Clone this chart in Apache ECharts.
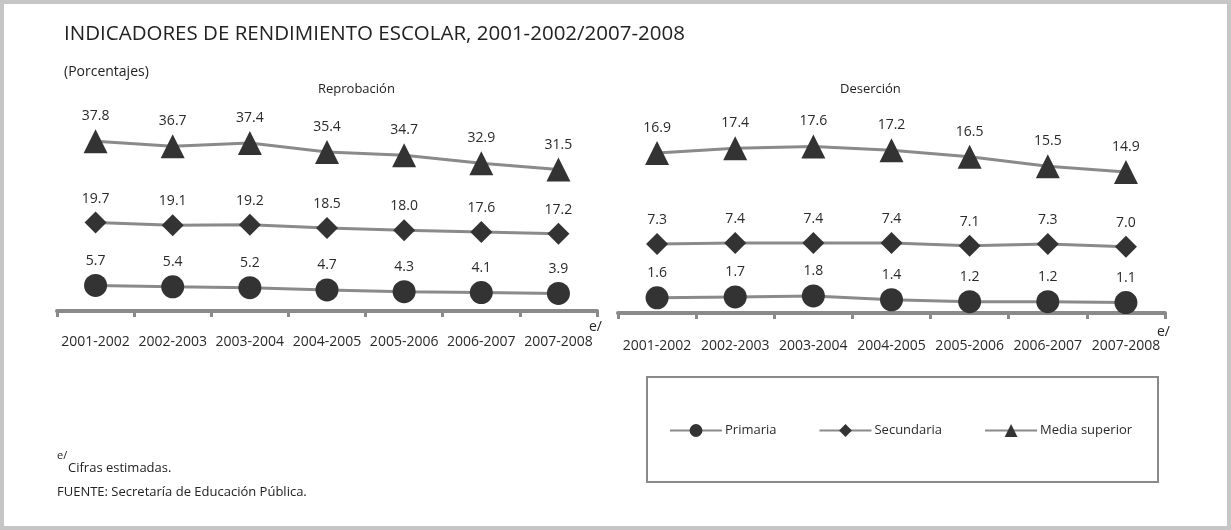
<!DOCTYPE html>
<html>
<head>
<meta charset="utf-8">
<script src="https://cdn.jsdelivr.net/npm/echarts@6/dist/echarts.min.js"></script>
<style>
    html, body { margin: 0; padding: 0; background: #fff; }
    #main { width: 1231px; height: 530px; box-sizing: border-box; border: 4px solid #c6c6c6; }
</style>
</head>
<body>
<div id="main"></div>
<script>
    // 資料
    var periodos = ['2001-2002', '2002-2003', '2003-2004', '2004-2005', '2005-2006', '2006-2007', '2007-2008'];

    var reprobPrimaria = [5.7, 5.4, 5.2, 4.7, 4.3, 4.1, 3.9];
    var reprobSecundaria = [19.7, 19.1, 19.2, 18.5, 18.0, 17.6, 17.2];
    var reprobMedia = [37.8, 36.7, 37.4, 35.4, 34.7, 32.9, 31.5];

    var desercPrimaria = [1.6, 1.7, 1.8, 1.4, 1.2, 1.2, 1.1];
    var desercSecundaria = [7.3, 7.4, 7.4, 7.4, 7.1, 7.3, 7.0];
    var desercMedia = [16.9, 17.4, 17.6, 17.2, 16.5, 15.5, 14.9];

    var fuente = '"Open Sans", "Noto Sans", sans-serif';

    var myChart = echarts.init(document.getElementById('main'));

    function serie(name, symbol, size, data, idx) {
        return {
            name: name,
            type: 'line',
            xAxisIndex: idx,
            yAxisIndex: idx,
            data: data,
            symbol: symbol,
            symbolSize: size,
            showAllSymbol: true,
            lineStyle: { color: '#8a8a8a', width: 3 },
            itemStyle: { color: '#333333', borderWidth: 0 },
            label: {
                show: true,
                position: 'top',
                distance: 6,
                fontSize: 14,
                fontFamily: fuente,
                color: '#2a2a2a',
                formatter: function (p) { return p.value.toFixed(1); }
            },
            emphasis: { disabled: true },
            animation: false
        };
    }

    function ejeX(idx, margin) {
        return {
            type: 'category',
            gridIndex: idx,
            data: periodos,
            boundaryGap: true,
            axisLine: { lineStyle: { color: '#8a8a8a', width: 4 } },
            axisTick: { show: true, length: 6, lineStyle: { color: '#8a8a8a', width: 3 } },
            axisLabel: { fontSize: 14, fontFamily: fuente, color: '#2a2a2a', margin: margin, interval: 0 }
        };
    }

    function ejeY(idx, max) {
        return {
            type: 'value',
            gridIndex: idx,
            min: 0,
            max: max,
            show: false,
            splitLine: { show: false }
        };
    }

    var option = {
        animation: false,
        grid: [
            { left: 53, top: 96, width: 540, height: 211 },
            { left: 614, top: 96, width: 547, height: 213 }
        ],
        xAxis: [ejeX(0, 24), ejeX(1, 26)],
        yAxis: [ejeY(0, 47), ejeY(1, 22.5)],
        legend: {
            left: 660,
            top: 415,
            itemGap: 42,
            itemWidth: 52,
            itemHeight: 16,
            textStyle: { fontSize: 13, fontFamily: fuente, color: '#2a2a2a', padding: [0, 0, 0, -2] },
            data: ['Primaria', 'Secundaria', 'Media superior']
        },
        series: [
            serie('Primaria', 'circle', 23, reprobPrimaria, 0),
            serie('Secundaria', 'diamond', 22, reprobSecundaria, 0),
            serie('Media superior', 'triangle', 24, reprobMedia, 0),
            serie('Primaria', 'circle', 23, desercPrimaria, 1),
            serie('Secundaria', 'diamond', 22, desercSecundaria, 1),
            serie('Media superior', 'triangle', 24, desercMedia, 1)
        ],
        graphic: [
            { type: 'text', left: 60, top: 20, style: { text: 'INDICADORES DE RENDIMIENTO ESCOLAR, 2001-2002/2007-2008', font: '20.5px ' + fuente, fill: '#222' } },
            { type: 'text', left: 60, top: 61, style: { text: '(Porcentajes)', font: '14px ' + fuente, fill: '#222' } },
            { type: 'text', left: 314, top: 79, style: { text: 'Reprobación', font: '13px ' + fuente, fill: '#222' } },
            { type: 'text', left: 836, top: 79, style: { text: 'Deserción', font: '13px ' + fuente, fill: '#222' } },
            { type: 'text', left: 585, top: 316, style: { text: 'e/', font: '14px ' + fuente, fill: '#222' } },
            { type: 'text', left: 1153, top: 321, style: { text: 'e/', font: '14px ' + fuente, fill: '#222' } },
            { type: 'rect', shape: { x: 643, y: 373, width: 511, height: 105 }, style: { fill: 'none', stroke: '#8a8a8a', lineWidth: 2 } },
            { type: 'text', left: 53, top: 446, style: { text: 'e/', font: '11px ' + fuente, fill: '#222' } },
            { type: 'text', left: 64, top: 458, style: { text: 'Cifras estimadas.', font: '13px ' + fuente, fill: '#222' } },
            { type: 'text', left: 53, top: 482, style: { text: 'FUENTE: Secretaría de Educación Pública.', font: '13px ' + fuente, fill: '#222' } }
        ]
    };

    myChart.setOption(option);

    window.addEventListener('resize', function () {
        myChart.resize();
    });
</script>
</body>
</html>
